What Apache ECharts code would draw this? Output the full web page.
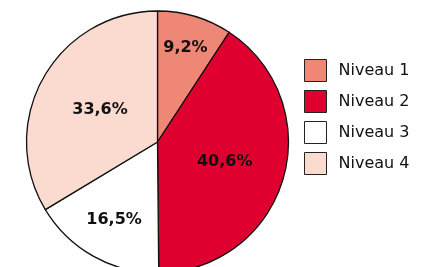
<!DOCTYPE html>
<html>
<head>
<meta charset="utf-8">
<script src="https://cdn.jsdelivr.net/npm/echarts@6/dist/echarts.min.js"></script>
<style>
    html, body { margin: 0; padding: 0; background: #fff; }
    #main { width: 447px; height: 267px; }
</style>
</head>
<body>
<div id="main"></div>
<script>
/**
 * DATA
 */
var categories = ['Niveau 1', 'Niveau 2', 'Niveau 3', 'Niveau 4'];
var shares = [9.2, 40.6, 16.5, 33.6];
var labels = ['9,2%', '40,6%', '16,5%', '33,6%'];

/**
 * CODE
 */
var colors = ['#ee8775', '#e00030', '#ffffff', '#fbdbd0'];
var center = [157.5, 142];
var radius = 131;
// label distance from the centre, per slice
var labelRadius = [98, 70, 89, 66];

var total = shares.reduce(function (a, b) { return a + b; }, 0);
var midAngles = [];
var acc = 0;
for (var i = 0; i < shares.length; i++) {
    midAngles.push((acc + shares[i] / 2) / total * Math.PI * 2);
    acc += shares[i];
}

var chart = echarts.init(document.getElementById('main'));
chart.setOption({
    animation: false,
    legend: {
        orient: 'vertical',
        left: 299,
        top: 54,
        itemWidth: 22,
        itemHeight: 22,
        itemGap: 8,
        icon: 'rect',
        itemStyle: {borderColor: '#222', borderWidth: 1},
        textStyle: {
            fontFamily: 'DejaVu Sans',
            fontSize: 16,
            color: '#111',
            padding: [0, 0, 0, 7]
        },
        data: categories
    },
    series: [{
        type: 'pie',
        center: center,
        radius: radius,
        startAngle: 90,
        clockwise: true,
        itemStyle: {borderColor: '#111', borderWidth: 1.3},
        label: {
            show: true,
            position: 'inside',
            align: 'center',
            verticalAlign: 'middle',
            fontFamily: 'DejaVu Sans',
            fontWeight: 'bold',
            fontSize: 16,
            color: '#111',
            formatter: function (p) { return labels[p.dataIndex]; }
        },
        labelLine: {show: false},
        labelLayout: function (p) {
            var a = midAngles[p.dataIndex];
            var r = labelRadius[p.dataIndex];
            return {
                x: center[0] + r * Math.sin(a),
                y: center[1] - r * Math.cos(a),
                align: 'center',
                verticalAlign: 'middle'
            };
        },
        data: categories.map(function (c, i) {
            return {name: c, value: shares[i], itemStyle: {color: colors[i]}};
        })
    }]
});
</script>
</body>
</html>
